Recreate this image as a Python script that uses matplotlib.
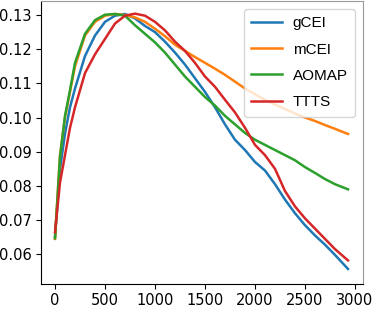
import matplotlib
matplotlib.use('Agg')
import matplotlib.pyplot as plt

# values
x = [0, 50, 100, 150, 200, 300, 400, 500, 600, 700, 800, 900, 1000,
     1100, 1200, 1300, 1400, 1500, 1600, 1700, 1800, 1900, 2000,
     2100, 2200, 2300, 2400, 2500, 2600, 2700, 2800, 2930]

gcei = [0.0650, 0.0850, 0.0953, 0.1030, 0.1085, 0.1180, 0.1240, 0.1280,
        0.1298, 0.1303, 0.1290, 0.1268, 0.1250, 0.1222, 0.1190, 0.1155,
        0.1115, 0.1075, 0.1030, 0.0980, 0.0935, 0.0905, 0.0870, 0.0845,
        0.0805, 0.0760, 0.0720, 0.0685, 0.0655, 0.0628, 0.0598, 0.0557]

mcei = [0.0645, 0.0890, 0.1000, 0.1075, 0.1150, 0.1240, 0.1280, 0.1298,
        0.1303, 0.1300, 0.1293, 0.1280, 0.1260, 0.1238, 0.1213, 0.1195,
        0.1177, 0.1160, 0.1143, 0.1125, 0.1105, 0.1085, 0.1068, 0.1052,
        0.1038, 0.1025, 0.1012, 0.1000, 0.0990, 0.0978, 0.0967, 0.0952]

aomap = [0.0647, 0.0885, 0.1005, 0.1080, 0.1160, 0.1245, 0.1285, 0.1301,
         0.1303, 0.1298, 0.1270, 0.1245, 0.1220, 0.1190, 0.1155, 0.1120,
         0.1090, 0.1060, 0.1035, 0.1005, 0.0980, 0.0955, 0.0935, 0.0920,
         0.0905, 0.0890, 0.0875, 0.0855, 0.0838, 0.0820, 0.0805, 0.0790]

ttts = [0.0664, 0.0810, 0.0890, 0.0970, 0.1030, 0.1130, 0.1185, 0.1230,
        0.1275, 0.1298, 0.1304, 0.1298, 0.1280, 0.1255, 0.1222, 0.1195,
        0.1160, 0.1120, 0.1090, 0.1052, 0.1015, 0.0970, 0.0920, 0.0890,
        0.0850, 0.0785, 0.0740, 0.0705, 0.0675, 0.0645, 0.0615, 0.0582]

names = ['gCEI', 'mCEI', 'AOMAP', 'TTTS']
colors = ['#1f77b4', '#ff7f0e', '#2ca02c', '#d62728']

fig = plt.figure(figsize=(3.74, 3.10), dpi=100)
ax = fig.add_axes([41/374, 26/310, 322/374, 283/310])

for ys, name, c in zip([gcei, mcei, aomap, ttts], names, colors):
    ax.plot(x, ys, color=c, lw=1.8, label=name)

ax.set_xlim(-140, 3080)
ax.set_ylim(0.0513, 0.1341)
ax.set_xticks([0, 500, 1000, 1500, 2000, 2500, 3000])
ax.set_yticks([0.06, 0.07, 0.08, 0.09, 0.10, 0.11, 0.12, 0.13])
ax.tick_params(labelsize=10.5, pad=3)
for s in ['top', 'right']:
    ax.spines[s].set_color('#999999')

ax.legend(loc='upper right', prop={'family': 'Liberation Sans', 'size': 11},
          handlelength=2.0, handletextpad=0.7, labelspacing=0.8, borderpad=0.5)

fig.savefig('out.png', dpi=100)
